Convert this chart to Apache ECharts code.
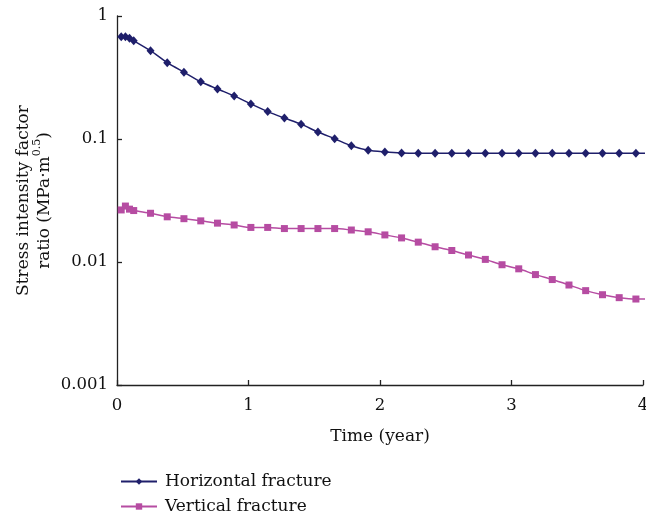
<!DOCTYPE html>
<html>
<head>
<meta charset="utf-8">
<script src="https://cdn.jsdelivr.net/npm/echarts@6/dist/echarts.min.js"></script>
<style>
html,body{margin:0;padding:0;background:#fff;}
#chart{width:646px;height:520px;}
</style>
</head>
<body>
<div id="chart"></div>
<script>
// Time (years) of each sample
var timeYears = [0.032, 0.064, 0.095, 0.127, 0.255, 0.382, 0.509, 0.637, 0.764, 0.891, 1.018, 1.146, 1.273, 1.400, 1.528, 1.655, 1.782, 1.910, 2.037, 2.164, 2.291, 2.419, 2.546, 2.673, 2.801, 2.928, 3.055, 3.182, 3.310, 3.437, 3.564, 3.692, 3.819, 3.946, 4.073];
// Stress intensity factor ratio
var horizontal = [0.679, 0.679, 0.659, 0.630, 0.522, 0.417, 0.349, 0.292, 0.255, 0.224, 0.193, 0.167, 0.148, 0.132, 0.114, 0.1005, 0.0881, 0.0809, 0.0784, 0.0769, 0.0765, 0.0765, 0.0765, 0.0765, 0.0765, 0.0765, 0.0765, 0.0765, 0.0765, 0.0765, 0.0765, 0.0765, 0.0765, 0.0765, 0.0765];
var vertical = [0.0265, 0.0285, 0.0269, 0.0262, 0.0249, 0.0233, 0.0225, 0.0216, 0.0207, 0.0200, 0.0191, 0.0191, 0.0187, 0.0187, 0.0187, 0.0187, 0.0182, 0.0176, 0.0166, 0.0157, 0.0145, 0.0133, 0.0124, 0.0114, 0.0105, 0.0095, 0.0088, 0.0079, 0.0072, 0.0065, 0.00585, 0.00542, 0.00513, 0.0050, 0.0050];
var seriesNames = ['Horizontal fracture', 'Vertical fracture'];
var yTickLabels = {0.001: '0.001', 0.01: '0.01', 0.1: '0.1', 1: '1'};

function pairs(xs, ys) {
  return xs.map(function (x, i) { return [x, ys[i]]; });
}

var FONT = 'DejaVu Serif';
var chart = echarts.init(document.getElementById('chart'), null, {renderer: 'canvas'});
chart.setOption({
  animation: false,
  backgroundColor: '#fff',
  textStyle: {fontFamily: FONT, color: '#111'},
  grid: {left: 117, right: 3, top: 16, bottom: 135, containLabel: false, outerBoundsMode: 'none'},
  legend: {
    orient: 'vertical',
    left: 120,
    top: 473,
    padding: 0,
    itemWidth: 36,
    itemHeight: 8,
    itemGap: 8,
    textStyle: {fontFamily: FONT, fontSize: 17, color: '#111', padding: [0, 0, 0, 3]},
    data: seriesNames
  },
  xAxis: {
    type: 'value',
    min: 0,
    max: 4,
    interval: 1,
    name: 'Time (year)',
    nameLocation: 'middle',
    nameGap: 43,
    nameMoveOverlap: false,
    nameTextStyle: {fontFamily: FONT, fontSize: 17, color: '#111'},
    axisLine: {lineStyle: {color: '#222', width: 1.3}},
    axisTick: {inside: true, length: 5, lineStyle: {color: '#222', width: 1.3}},
    axisLabel: {fontFamily: FONT, fontSize: 16.5, color: '#111', margin: 12},
    splitLine: {show: false}
  },
  yAxis: {
    type: 'log',
    logBase: 10,
    min: 0.001,
    max: 1,
    name: '{t|Stress intensity factor}\n{t|ratio (MPa·m}{s|0.5}{t|)}',
    nameLocation: 'middle',
    nameGap: 64,
    nameMoveOverlap: false,
    nameRotate: 90,
    nameTextStyle: {
      fontFamily: FONT,
      color: '#111',
      lineHeight: 21,
      rich: {
        t: {fontFamily: FONT, fontSize: 17, color: '#111', lineHeight: 21, verticalAlign: 'bottom'},
        s: {fontFamily: FONT, fontSize: 11, color: '#111', lineHeight: 21, verticalAlign: 'top'}
      }
    },
    axisLine: {show: true, lineStyle: {color: '#222', width: 1.3}},
    axisTick: {show: true, inside: true, length: 5, lineStyle: {color: '#222', width: 1.3}},
    minorTick: {show: false},
    axisLabel: {
      fontFamily: FONT, fontSize: 16.5, color: '#111', margin: 9,
      formatter: function (v) {
        var k = Number(v.toPrecision(3));
        return yTickLabels[k] !== undefined ? yTickLabels[k] : '';
      }
    },
    splitLine: {show: false}
  },
  series: [
    {
      name: seriesNames[0],
      type: 'line',
      data: pairs(timeYears, horizontal),
      clip: true,
      smooth: 0.25,
      symbol: 'diamond',
      symbolSize: [8, 9],
      color: '#1f1f6b',
      lineStyle: {color: '#1f1f6b', width: 1.5},
      itemStyle: {color: '#1f1f6b'}
    },
    {
      name: seriesNames[1],
      type: 'line',
      data: pairs(timeYears, vertical),
      clip: true,
      smooth: 0.25,
      symbol: 'rect',
      symbolSize: 7,
      color: '#b64ca2',
      lineStyle: {color: '#b64ca2', width: 1.5},
      itemStyle: {color: '#b64ca2'}
    }
  ]
});
</script>
</body>
</html>
